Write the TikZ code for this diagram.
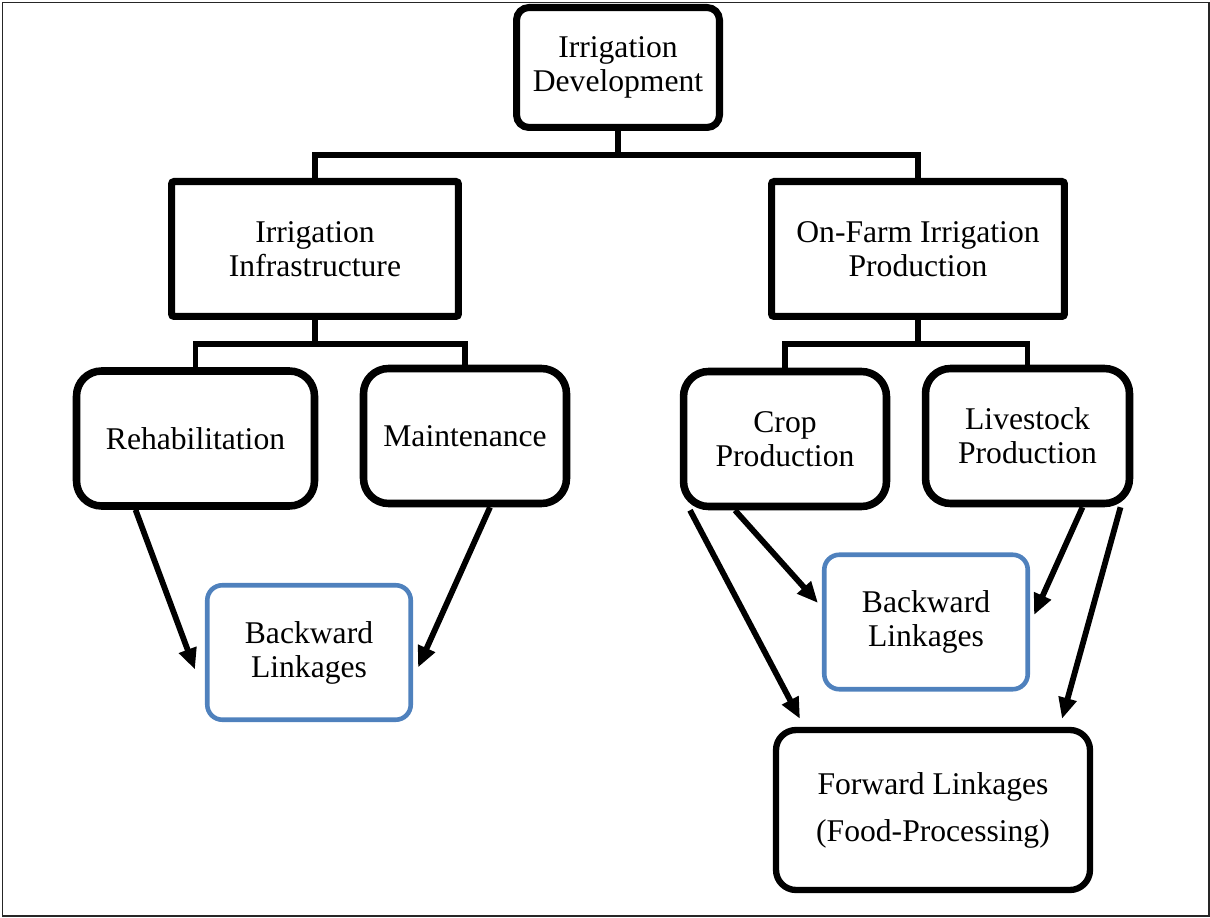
\documentclass[tikz,border=0pt]{standalone}
\usepackage{fontspec}
\setmainfont{Liberation Serif}
\usepackage{xcolor}
\usetikzlibrary{arrows.meta,calc,positioning}
\definecolor{linkblue}{RGB}{79,129,189}

\begin{document}
\begin{tikzpicture}[x=0.02cm,y=-0.02cm,
  every node/.style={align=center,font=\fontsize{18}{19.3}\selectfont},
  topbox/.style={draw,line width=4pt,rounded corners=0.25cm,minimum width=4.06cm,minimum height=2.4cm},
  midbox/.style={draw,line width=4pt,rounded corners=1.5pt,minimum height=2.7cm},
  leafbox/.style={draw,line width=4.3pt,rounded corners=0.5cm,minimum height=2.7cm},
  linkbox/.style={draw=linkblue,line width=2.6pt,rounded corners=0.3cm,minimum width=4.07cm,minimum height=2.69cm},
  fwdbox/.style={draw,line width=3.6pt,rounded corners=0.4cm,minimum width=6.28cm,minimum height=3.2cm},
  tree/.style={line width=3pt},
  arw/.style={line width=3.3pt,-{Triangle[length=12pt,width=10pt]}}]
\useasboundingbox (0,0) rectangle (1210,918);
\draw[line width=0.85pt,black!85] (2.5,2.5) rectangle (1209,916);

% boxes
\node[topbox] (dev) at (618,67.5) {Irrigation\\Development};
\node[midbox,minimum width=5.74cm] (infra) at (315,249) {Irrigation\\Infrastructure};
\node[midbox,minimum width=5.86cm] (farm) at (918,249) {On-Farm Irrigation\\Production};
\node[leafbox,minimum width=4.76cm] (rehab) at (195.5,438.5) {Rehabilitation};
\node[leafbox,minimum width=4.06cm] (maint) at (465,436) {Maintenance};
\node[leafbox,minimum width=4.06cm] (crop) at (785,439) {Crop\\Production};
\node[leafbox,minimum width=4.08cm] (live) at (1027.5,436) {Livestock\\Production};
\node[linkbox] (backL) at (309,652.5) {Backward\\Linkages};
\node[linkbox] (backR) at (926,622) {Backward\\Linkages};
\node[fwdbox] (fwd) at (933,810) {Forward Linkages\\[7.4pt](Food-Processing)};

% tree lines
\coordinate (busA) at (618,155);
\coordinate (busB) at (315,344);
\coordinate (busC) at (918,344);
\draw[tree] (dev.south) -- (busA) -| (infra.north);
\draw[tree] (busA) -| (farm.north);
\draw[tree] (infra.south) -- (busB) -| (rehab.north);
\draw[tree] (busB) -| (maint.north);
\draw[tree] (farm.south) -- (busC) -| (crop.north);
\draw[tree] (busC) -| (live.north);

% linkage arrows
\draw[arw] ($(rehab.south)+(-60,0)$) -- ($(backL.west)+(-10,17)$);
\draw[arw] ($(maint.south)+(25,0)$) -- ($(backL.east)+(5,15)$);
\draw[arw] ($(crop.south)+(-50,0)$) -- ($(backR.west)+(-4,-19)$);
\draw[arw] ($(crop.south)+(-95,0)$) -- ($(fwd.north)+(-133,-8)$);
\draw[arw] ($(live.south)+(55,0)$) -- ($(backR.east)+(4,-7)$);
\draw[arw] ($(live.south)+(93,0)$) -- ($(fwd.north)+(129,-8)$);
\end{tikzpicture}
\end{document}
